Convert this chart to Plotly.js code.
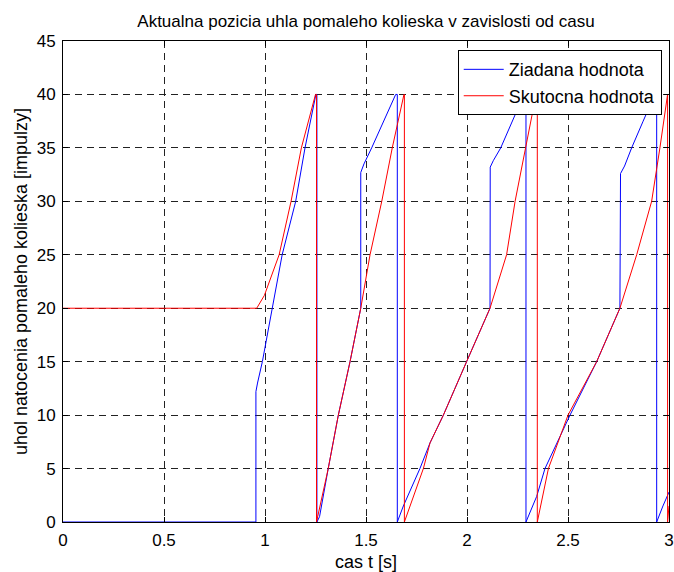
<!DOCTYPE html>
<html><head><meta charset="utf-8">
<script src="https://cdn.plot.ly/plotly-3.0.1.min.js"></script>
<style>html,body{margin:0;padding:0;background:#fff}</style>
</head><body>
<div id="chart" style="width:674px;height:572px"></div>
<script>
// Ziadana hodnota (desired) — time [s] and value [impulzy]
const blueT = [0, 0.955, 0.955, 0.963, 0.987, 1.036, 1.085, 1.152, 1.198, 1.252, 1.257, 1.257, 1.27, 1.313, 1.363, 1.421, 1.474, 1.474, 1.49, 1.528, 1.587, 1.647, 1.655, 1.655, 1.685, 1.767, 1.817, 1.883, 1.998, 2.114, 2.115, 2.13, 2.167, 2.225, 2.282, 2.292, 2.292, 2.345, 2.386, 2.51, 2.642, 2.757, 2.76, 2.78, 2.815, 2.872, 2.93, 2.939, 2.939, 2.97, 3.0];
const blueY = [0, 0, 12.2, 13, 15, 20, 25, 30, 35, 40, 40, 0, 0.5, 5, 10, 15, 20, 32.7, 33.5, 35, 37.5, 40, 40, 0, 1.5, 5, 7.4, 10, 15, 20, 33.2, 33.8, 35, 37.5, 40, 40, 0, 2.4, 5, 10, 15, 20, 32.6, 33.3, 35, 37.5, 40, 40, 0, 1.5, 2.8];
// Skutocna hodnota (actual)
const redT = [0, 0.959, 0.997, 1.07, 1.129, 1.18, 1.25, 1.255, 1.255, 1.313, 1.363, 1.421, 1.474, 1.52, 1.578, 1.63, 1.688, 1.69, 1.69, 1.784, 1.817, 1.883, 1.998, 2.114, 2.196, 2.238, 2.29, 2.342, 2.348, 2.348, 2.403, 2.5, 2.642, 2.757, 2.84, 2.914, 2.955, 2.992, 2.993, 2.993, 3.0];
const redY = [20, 20, 21.2, 25, 30, 35, 40, 40, 0, 5, 10, 15, 20, 25, 30, 35, 40, 40, 0, 5, 7.4, 10, 15, 20, 25, 30, 35, 40, 40, 0, 5, 10, 15, 20, 25, 30, 35, 40, 40, 0, 1.5];

const xTicks = [0, 0.5, 1, 1.5, 2, 2.5, 3];
const xTickText = ["0", "0.5", "1", "1.5", "2", "2.5", "3"];
const yTicks = [0, 5, 10, 15, 20, 25, 30, 35, 40, 45];
const seriesNames = ["Ziadana hodnota", "Skutocna hodnota"];

const traces = [
  {x: blueT, y: blueY, type: 'scatter', mode: 'lines', name: seriesNames[0], line: {color: '#0000ff', width: 1}},
  {x: redT, y: redY, type: 'scatter', mode: 'lines', name: seriesNames[1], line: {color: '#ff0000', width: 1}}
];

const fam = 'Liberation Sans, Arial, sans-serif';
const f = (s) => ({family: fam, size: s, color: '#000'});
const layout = {
  width: 674, height: 572,
  margin: {l: 63, r: 5, t: 41, b: 50},
  paper_bgcolor: '#fff', plot_bgcolor: '#fff',
  font: f(17),
  title: {text: 'Aktualna pozicia uhla pomaleho kolieska v zavislosti od casu', font: f(17), x: (63 + 669) / 2 / 674, xanchor: 'center', y: 1 - 21/572, yanchor: 'middle'},
  xaxis: {
    range: [0, 3], tickvals: xTicks, ticktext: xTickText,
    showline: true, linecolor: '#000', linewidth: 1, mirror: 'allticks',
    ticks: 'inside', ticklen: 5, tickcolor: '#000', ticklabelstandoff: 3,
    showgrid: true, gridcolor: '#222', gridwidth: 1, griddash: '7px,5px',
    zeroline: false, tickfont: f(17),
    title: {text: 'cas t [s]', font: f(18), standoff: 6}
  },
  yaxis: {
    range: [0, 45], tickvals: yTicks,
    showline: true, linecolor: '#000', linewidth: 1, mirror: 'allticks',
    ticks: 'inside', ticklen: 5, tickcolor: '#000', ticklabelstandoff: 3,
    showgrid: true, gridcolor: '#222', gridwidth: 1, griddash: '7px,5px',
    zeroline: false, tickfont: f(17),
    title: {text: 'uhol natocenia pomaleho kolieska [impulzy]', font: f(18), standoff: 4}
  },
  legend: {x: 0.988, y: 0.981, xanchor: 'right', yanchor: 'top', bgcolor: '#fff', bordercolor: '#000', borderwidth: 1, font: f(18), itemwidth: 40},
  showlegend: true
};
Plotly.newPlot('chart', traces, layout, {displayModeBar: false, staticPlot: true});
</script>
</body></html>
